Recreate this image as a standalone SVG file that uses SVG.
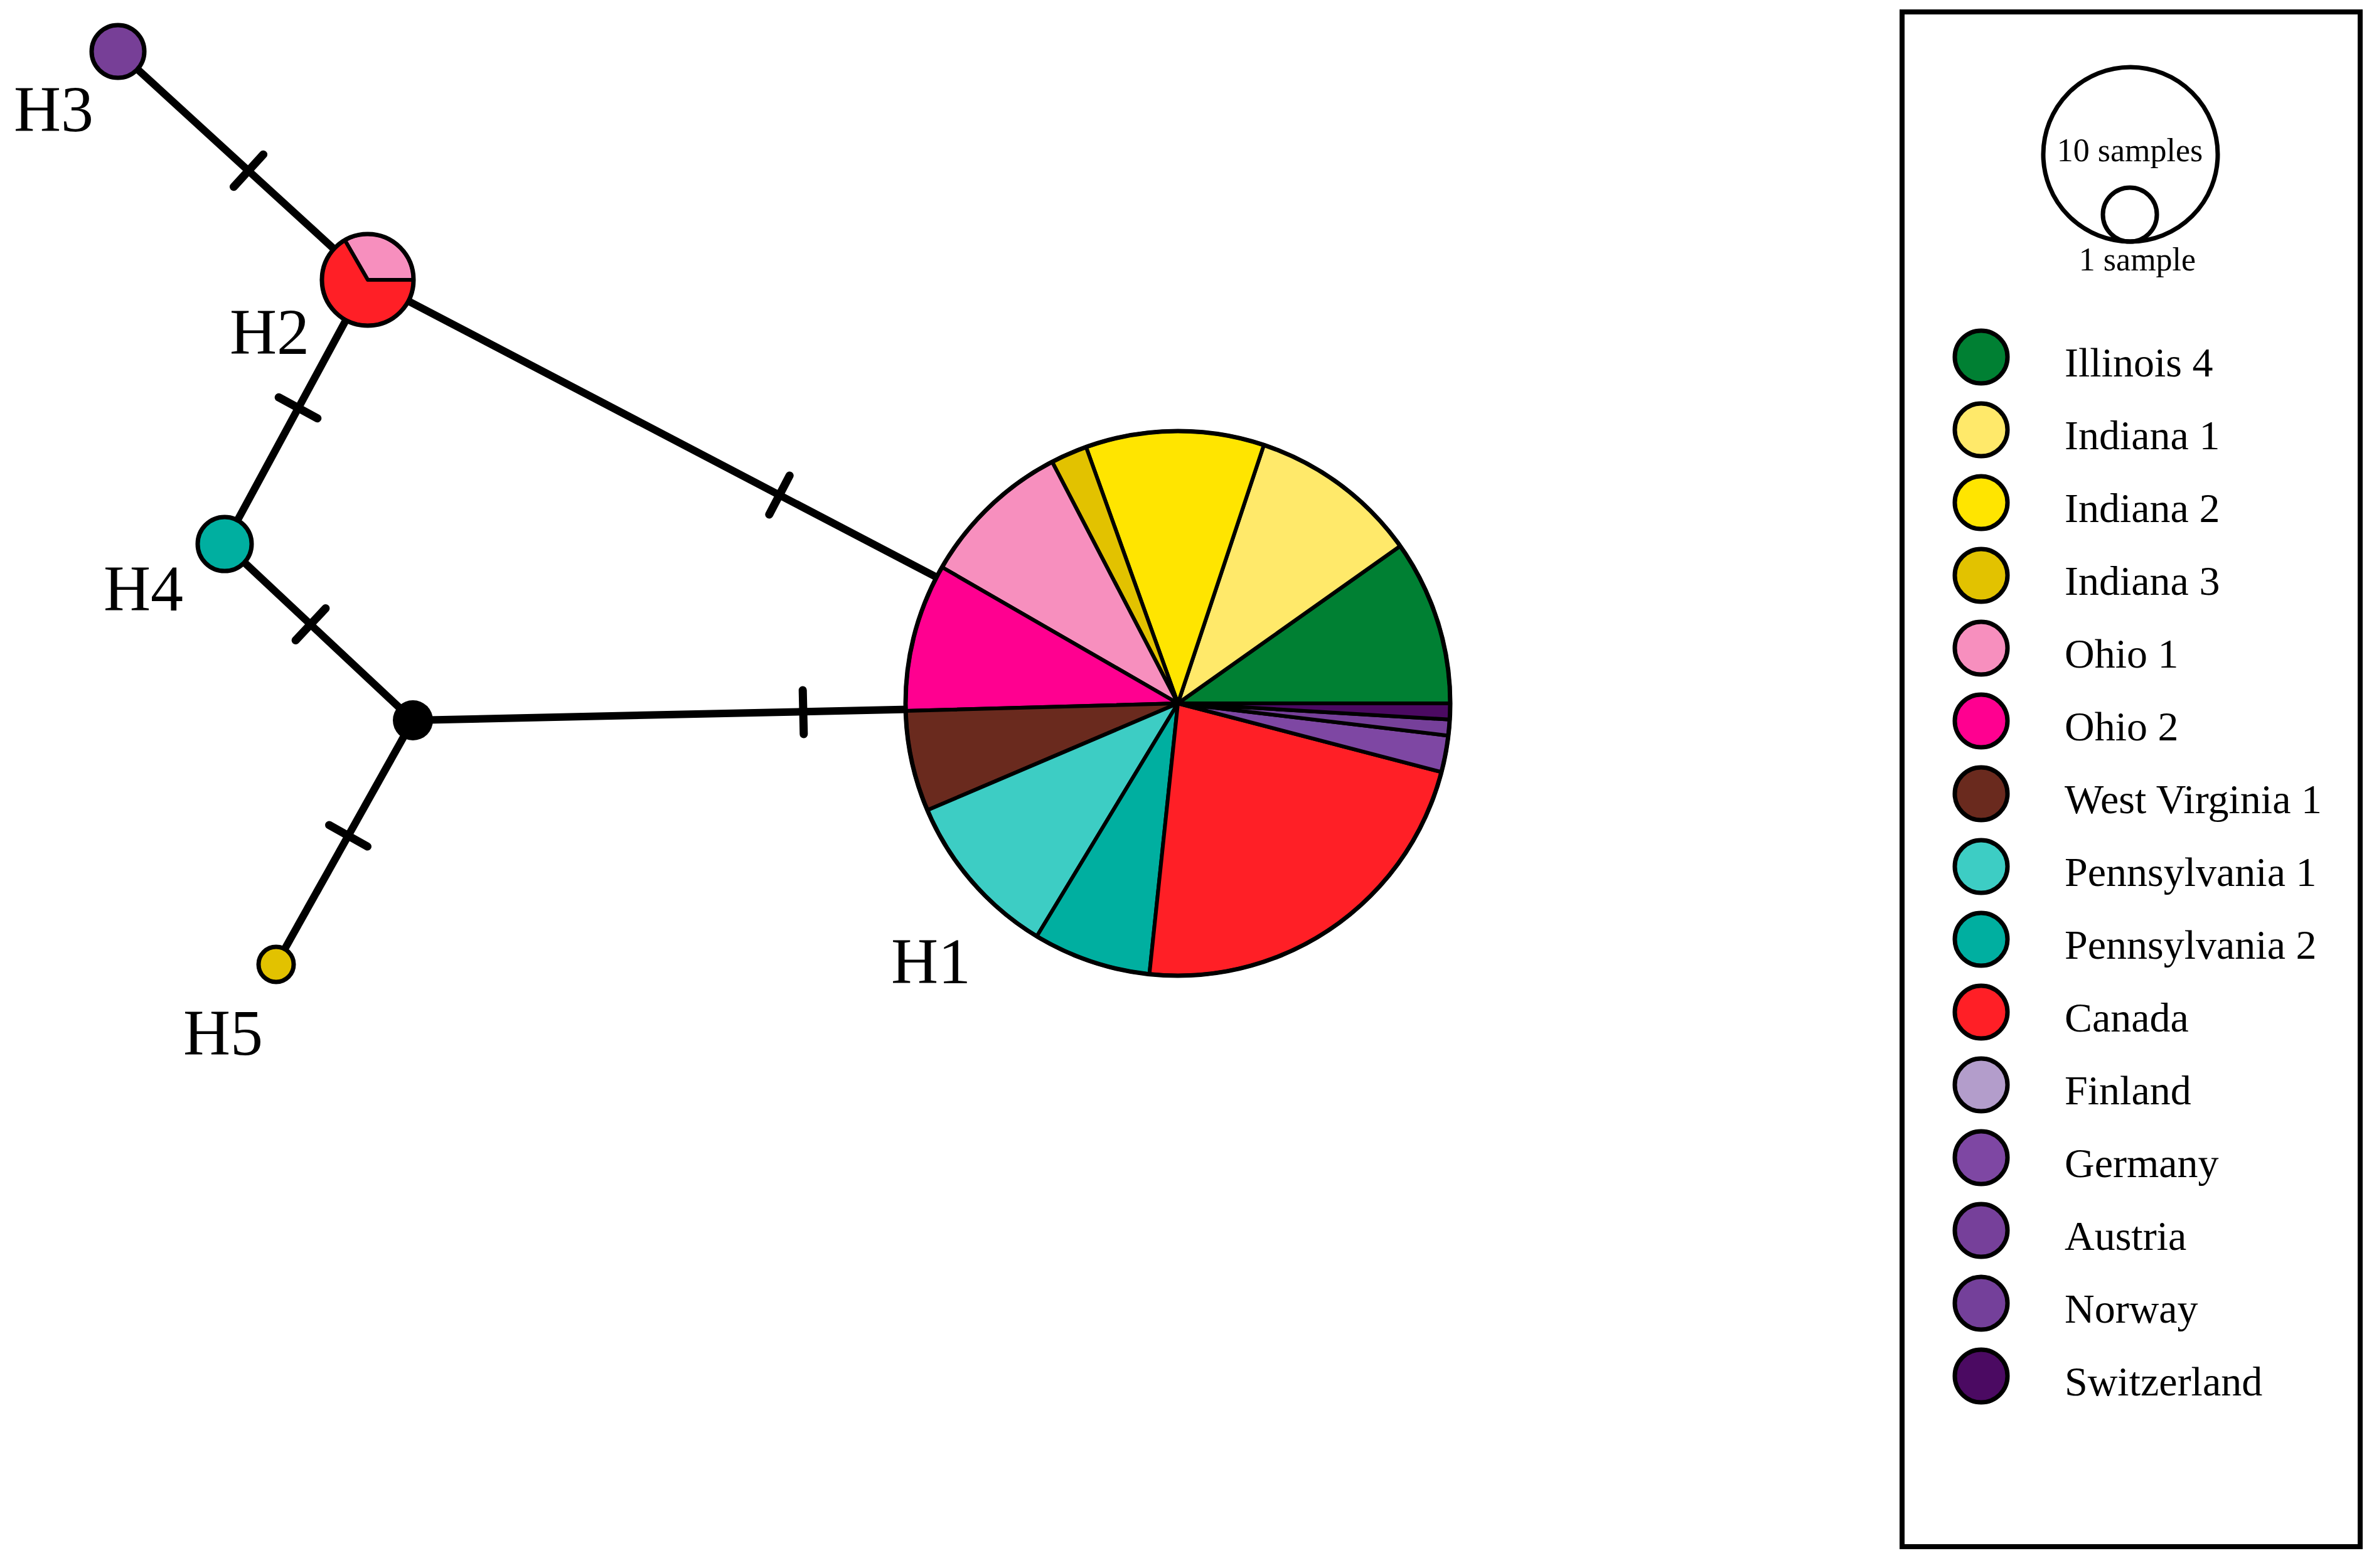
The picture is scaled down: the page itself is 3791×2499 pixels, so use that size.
<svg xmlns="http://www.w3.org/2000/svg" width="3791" height="2499" viewBox="0 0 3791 2499">
<defs>
<style>
.edge{stroke:#000;stroke-width:12;fill:none}
.tick{stroke:#000;stroke-width:13;stroke-linecap:round;fill:none}
.sl{stroke:#000;stroke-width:6;stroke-linejoin:round}
.nd{stroke:#000;stroke-width:7}
.hl{font-family:"Liberation Serif","Times New Roman",serif;font-size:104px;fill:#000}
.lt{font-family:"Liberation Serif","Times New Roman",serif;font-size:66px;fill:#000}
.st{font-family:"Liberation Serif","Times New Roman",serif;font-size:52px;fill:#000}
.lc{stroke:#000;stroke-width:7}
</style>
</defs>
<rect width="3791" height="2499" fill="#fff"/>
<g id="connectors">
<line class="edge" x1="188" y1="82" x2="586" y2="446"/>
<line class="edge" x1="586" y1="446" x2="1877" y2="1121"/>
<line class="edge" x1="586" y1="446" x2="358" y2="867"/>
<line class="edge" x1="358" y1="867" x2="658" y2="1148"/>
<line class="edge" x1="658" y1="1148" x2="440" y2="1537"/>
<line class="edge" x1="658" y1="1148" x2="1877" y2="1121"/>
<line class="tick" x1="372.4" y1="297.8" x2="419.6" y2="246.2"/>
<line class="tick" x1="1225.8" y1="820" x2="1258.2" y2="758"/>
<line class="tick" x1="444.2" y1="633.3" x2="505.8" y2="666.7"/>
<line class="tick" x1="471.1" y1="1020.5" x2="518.9" y2="969.5"/>
<line class="tick" x1="524.5" y1="1314.9" x2="585.5" y2="1349.1"/>
<line class="tick" x1="1279.2" y1="1100" x2="1280.8" y2="1170"/>
</g>
<g id="H1">
<path class="sl" fill="#008033" d="M1877 1121 L2311 1121 A434 434 0 0 0 2231.2 870.2 Z"/>
<path class="sl" fill="#FFE96A" d="M1877 1121 L2231.2 870.2 A434 434 0 0 0 2014 709.2 Z"/>
<path class="sl" fill="#FFE500" d="M1877 1121 L2014 709.2 A434 434 0 0 0 1730.7 712.4 Z"/>
<path class="sl" fill="#E2C200" d="M1877 1121 L1730.7 712.4 A434 434 0 0 0 1676.6 736 Z"/>
<path class="sl" fill="#F78FBE" d="M1877 1121 L1676.6 736 A434 434 0 0 0 1501.2 904 Z"/>
<path class="sl" fill="#FF0090" d="M1877 1121 L1501.2 904 A434 434 0 0 0 1443.2 1133.1 Z"/>
<path class="sl" fill="#6A2A1E" d="M1877 1121 L1443.2 1133.1 A434 434 0 0 0 1477.8 1291.3 Z"/>
<path class="sl" fill="#3DCDC4" d="M1877 1121 L1477.8 1291.3 A434 434 0 0 0 1652.2 1492.2 Z"/>
<path class="sl" fill="#00AFA0" d="M1877 1121 L1652.2 1492.2 A434 434 0 0 0 1831.6 1552.6 Z"/>
<path class="sl" fill="#FF1F26" d="M1877 1121 L1831.6 1552.6 A434 434 0 0 0 2297 1230.4 Z"/>
<path class="sl" fill="#7E47A3" d="M1877 1121 L2297 1230.4 A434 434 0 0 0 2308 1172.4 Z"/>
<path class="sl" fill="#76409A" d="M1877 1121 L2308 1172.4 A434 434 0 0 0 2310.2 1146.7 Z"/>
<path class="sl" fill="#4B0A62" d="M1877 1121 L2310.2 1146.7 A434 434 0 0 0 2311 1121 Z"/>
<circle cx="1877" cy="1121" r="434" fill="none" stroke="#000" stroke-width="7"/>
<text class="hl" x="1420" y="1567">H1</text>
</g>
<g id="H2">
<path class="sl" fill="#F78FBE" d="M586 446 L659 446 A73 73 0 0 0 549.5 382.8 Z"/>
<path class="sl" fill="#FF1F26" d="M586 446 L549.5 382.8 A73 73 0 1 0 659 446 Z"/>
<circle cx="586" cy="446" r="73" fill="none" stroke="#000" stroke-width="7"/>
<text class="hl" x="366" y="564">H2</text>
</g>
<g id="H3">
<circle class="nd" cx="188" cy="82" r="42" fill="#773F97"/>
<text class="hl" x="22" y="209">H3</text>
</g>
<g id="H4">
<circle class="nd" cx="358" cy="867" r="43" fill="#00AFA0"/>
<text class="hl" x="165" y="973">H4</text>
</g>
<g id="H5">
<circle class="nd" cx="440" cy="1537" r="28" fill="#E2C200"/>
<text class="hl" x="292" y="1681">H5</text>
</g>
<g id="median">
<circle cx="658" cy="1148" r="32" fill="#000"/>
</g>
<g id="legend">
<rect x="3031" y="19" width="730" height="2446" fill="none" stroke="#000" stroke-width="8"/>
<circle cx="3395" cy="246" r="139" fill="none" stroke="#000" stroke-width="7"/>
<circle cx="3394" cy="342" r="43" fill="none" stroke="#000" stroke-width="7"/>
<text class="st" x="3394" y="257" text-anchor="middle">10 samples</text>
<text class="st" x="3406" y="431" text-anchor="middle">1 sample</text>
<g id="leg-illinois4"><circle class="lc" cx="3157" cy="569" r="42" fill="#008033"/><text class="lt" x="3290" y="600">Illinois 4</text></g>
<g id="leg-indiana1"><circle class="lc" cx="3157" cy="685" r="42" fill="#FFE96A"/><text class="lt" x="3290" y="716">Indiana 1</text></g>
<g id="leg-indiana2"><circle class="lc" cx="3157" cy="801" r="42" fill="#FFE500"/><text class="lt" x="3290" y="832">Indiana 2</text></g>
<g id="leg-indiana3"><circle class="lc" cx="3157" cy="917" r="42" fill="#E2C200"/><text class="lt" x="3290" y="948">Indiana 3</text></g>
<g id="leg-ohio1"><circle class="lc" cx="3157" cy="1033" r="42" fill="#F78FBE"/><text class="lt" x="3290" y="1064">Ohio 1</text></g>
<g id="leg-ohio2"><circle class="lc" cx="3157" cy="1149" r="42" fill="#FF0090"/><text class="lt" x="3290" y="1180">Ohio 2</text></g>
<g id="leg-wv1"><circle class="lc" cx="3157" cy="1265" r="42" fill="#6A2A1E"/><text class="lt" x="3290" y="1296">West Virginia 1</text></g>
<g id="leg-penn1"><circle class="lc" cx="3157" cy="1381" r="42" fill="#3DCDC4"/><text class="lt" x="3290" y="1412">Pennsylvania 1</text></g>
<g id="leg-penn2"><circle class="lc" cx="3157" cy="1497" r="42" fill="#00AFA0"/><text class="lt" x="3290" y="1528">Pennsylvania 2</text></g>
<g id="leg-canada"><circle class="lc" cx="3157" cy="1613" r="42" fill="#FF1F26"/><text class="lt" x="3290" y="1644">Canada</text></g>
<g id="leg-finland"><circle class="lc" cx="3157" cy="1729" r="42" fill="#B39DCB"/><text class="lt" x="3290" y="1760">Finland</text></g>
<g id="leg-germany"><circle class="lc" cx="3157" cy="1845" r="42" fill="#7E47A3"/><text class="lt" x="3290" y="1876">Germany</text></g>
<g id="leg-austria"><circle class="lc" cx="3157" cy="1961" r="42" fill="#76409A"/><text class="lt" x="3290" y="1992">Austria</text></g>
<g id="leg-norway"><circle class="lc" cx="3157" cy="2077" r="42" fill="#74409A"/><text class="lt" x="3290" y="2108">Norway</text></g>
<g id="leg-switzerland"><circle class="lc" cx="3157" cy="2193" r="42" fill="#4B0A62"/><text class="lt" x="3290" y="2224">Switzerland</text></g>
</g>
</svg>
